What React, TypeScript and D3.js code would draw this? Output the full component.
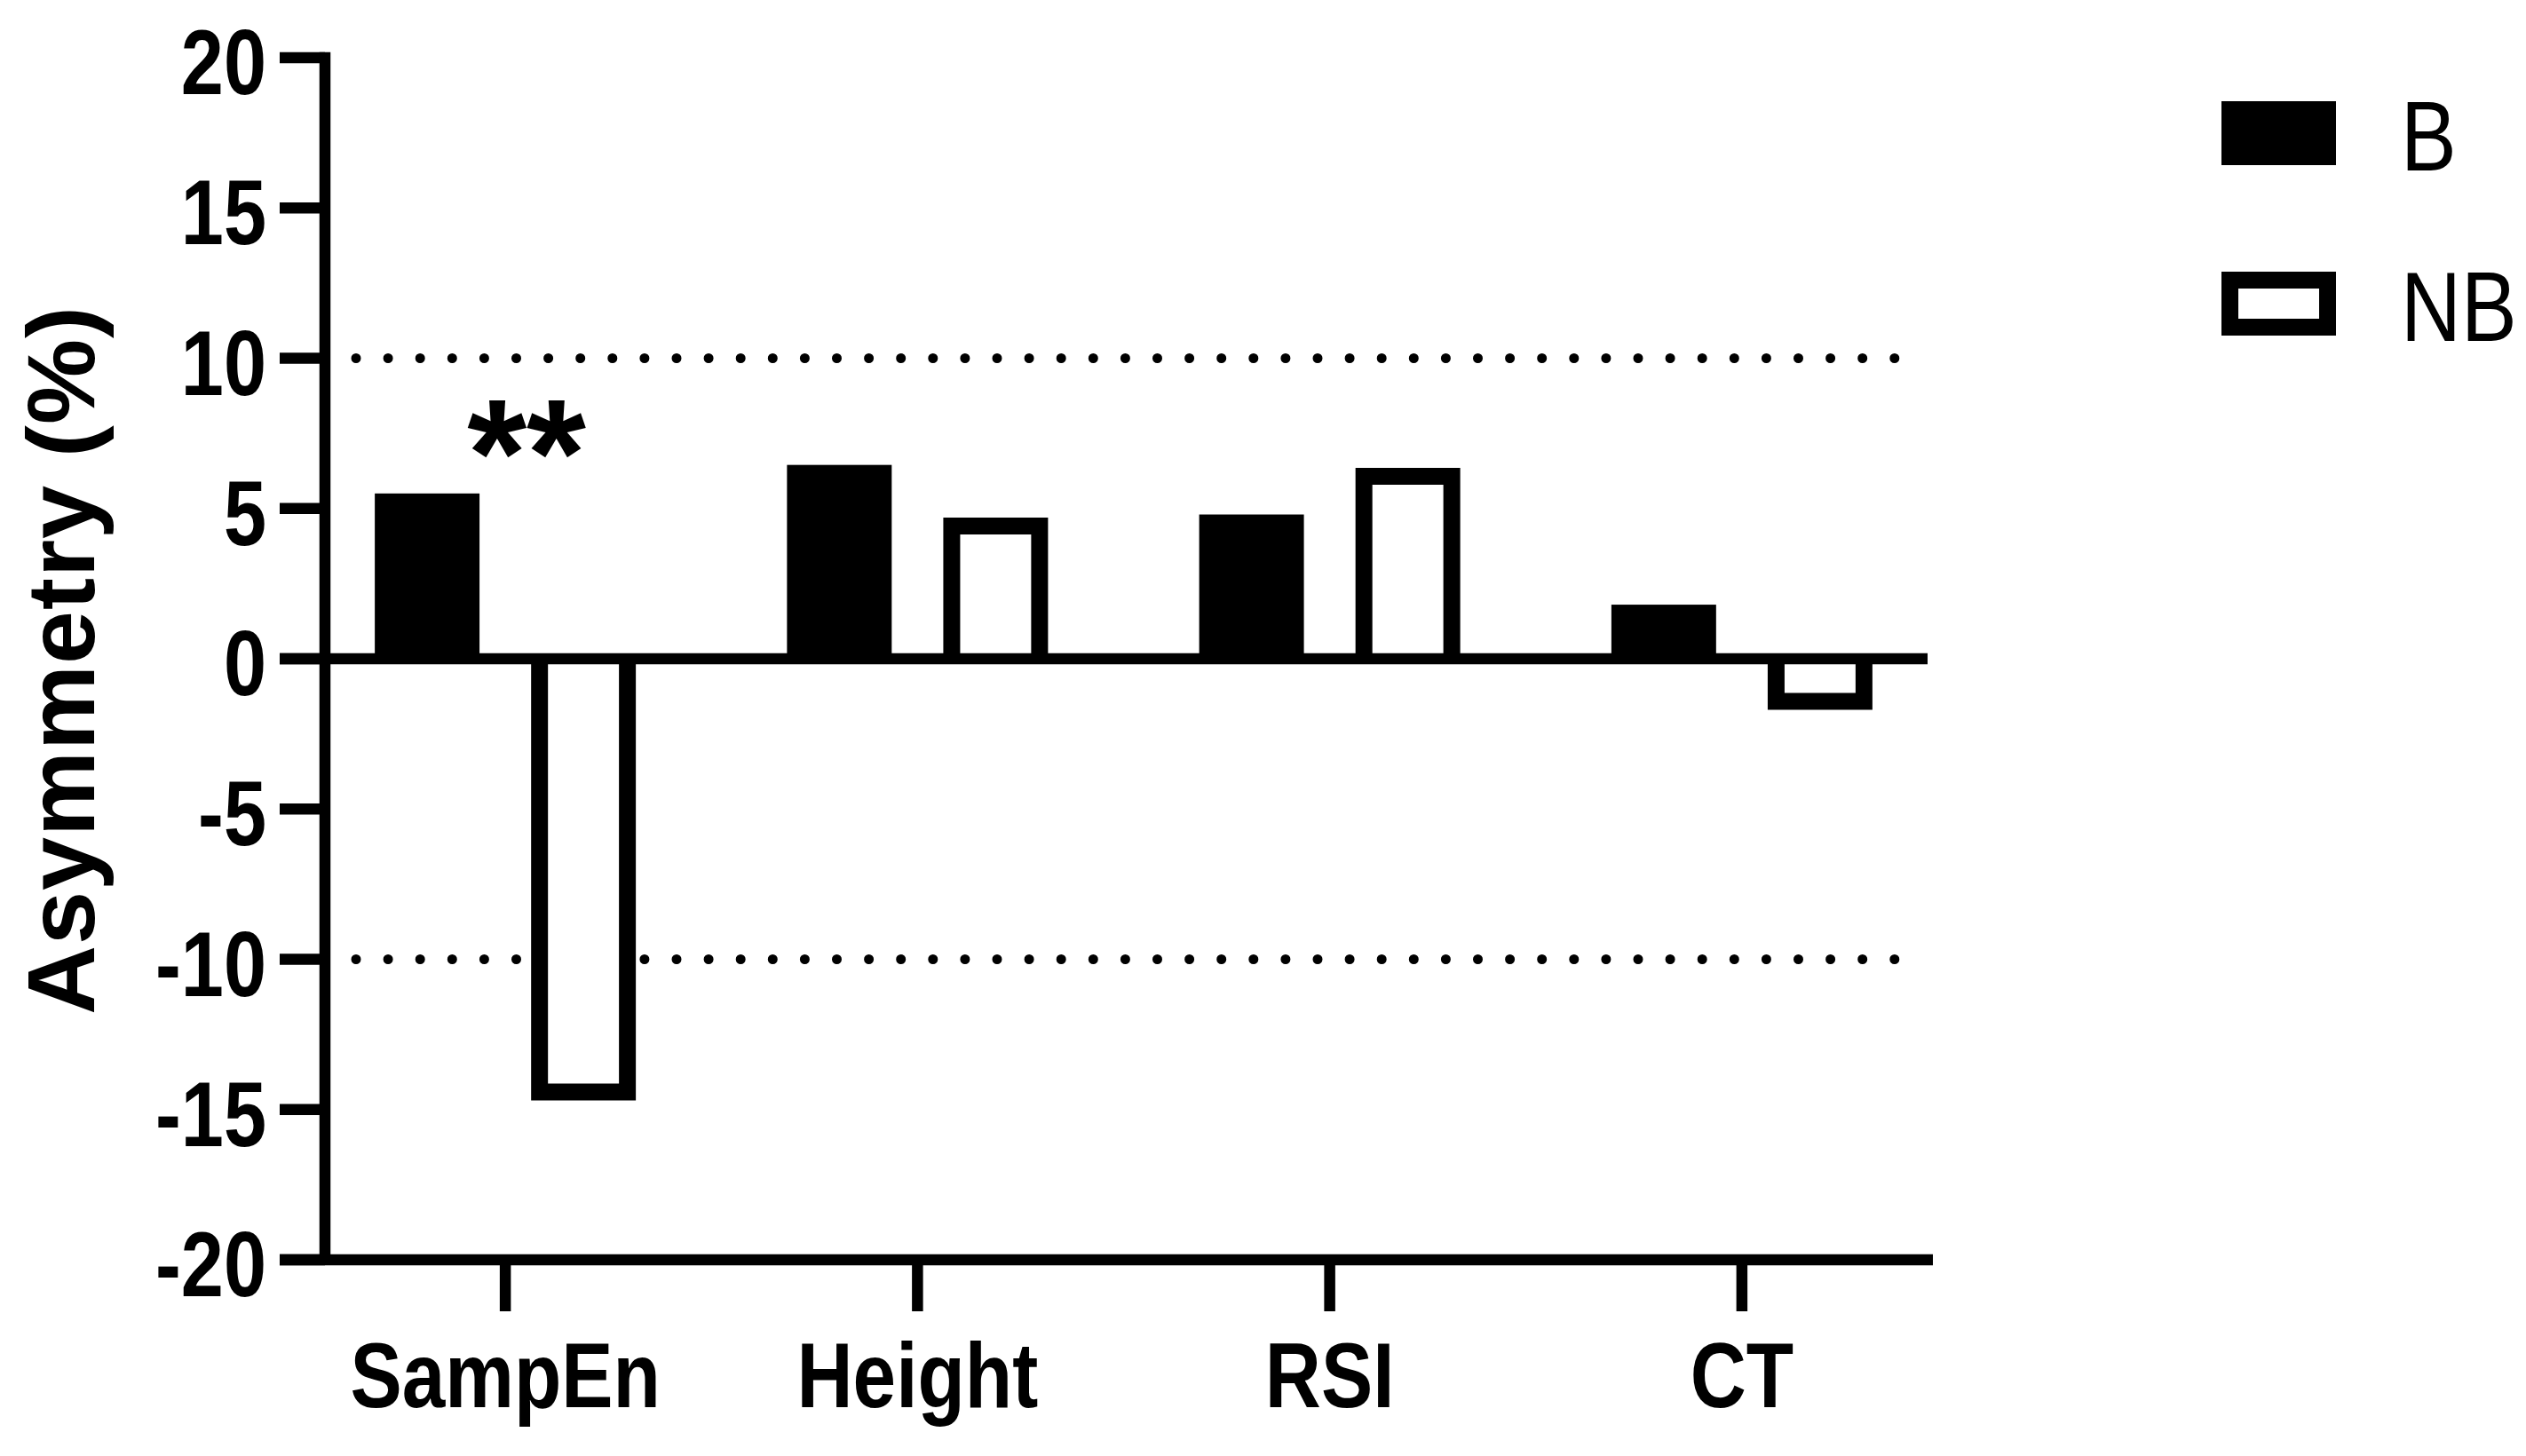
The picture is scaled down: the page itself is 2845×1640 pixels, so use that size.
import * as d3 from 'd3';
import { useRef, useEffect } from 'react';

// values
const categories = ['SampEn', 'Height', 'RSI', 'CT'];
const seriesNames = ['B', 'NB'];
const bValues = [5.5, 6.45, 4.8, 1.8];
const nbValues = [-14.7, 4.7, 6.35, -1.7];
const yTicks = [-20, -15, -10, -5, 0, 5, 10, 15, 20];
const refLines = [10, -10];
const yLabel = 'Asymmetry (%)';
const stars = '**';

const App = () => {
    const svgRef = useRef<SVGSVGElement | null>(null);

    useEffect(() => {
        const width = 2845;
        const height = 1640;
        const font = '"Liberation Sans", Arial, sans-serif';
        const narrow = 0.84;
        const lw = 12.5;
        const sw = 19;

        d3.select(svgRef.current).selectAll('*').remove();

        const svg = d3.select(svgRef.current)
            .attr('width', width)
            .attr('height', height);

        svg.append('rect').attr('width', width).attr('height', height).attr('fill', '#fff');

        // Scales
        const y = d3.scaleLinear().domain([-20, 20]).range([1419, 65]);
        const x0 = d3.scaleBand().domain(categories).range([337, 2194]);
        const x1 = d3.scaleBand().domain(seriesNames).range([0, 294]).paddingInner(0.33);
        const center = (c: string) => x0(c)! + x0.bandwidth() / 2;

        const axisX = 366;
        const tickLeft = 315;

        // dotted reference lines (drawn under the bars)
        svg.selectAll('line.ref')
            .data(refLines)
            .enter()
            .append('line')
            .attr('class', 'ref')
            .attr('x1', 401)
            .attr('x2', 2134)
            .attr('y1', d => y(d))
            .attr('y2', d => y(d))
            .attr('stroke', '#000')
            .attr('stroke-width', 11)
            .attr('stroke-linecap', 'round')
            .attr('stroke-dasharray', '0 36.1');

        // bars
        const rows = categories.map((c, i) => ({ cat: c, items: [
            { s: 'B', v: bValues[i] },
            { s: 'NB', v: nbValues[i] },
        ] }));

        const group = svg.selectAll('g.grp')
            .data(rows)
            .enter()
            .append('g')
            .attr('class', 'grp')
            .attr('transform', d => `translate(${center(d.cat) - 147},0)`);

        // filled bars
        group.selectAll('rect.b')
            .data(d => d.items.filter(e => e.s === 'B'))
            .enter()
            .append('rect')
            .attr('class', 'b')
            .attr('x', d => x1(d.s)!)
            .attr('y', d => y(Math.max(0, d.v)))
            .attr('width', x1.bandwidth())
            .attr('height', d => Math.abs(y(d.v) - y(0)))
            .attr('fill', '#000');

        // open bars: white box, border on the three sides away from zero
        const openBars = group.selectAll('g.nb')
            .data(d => d.items.filter(e => e.s === 'NB'))
            .enter()
            .append('g')
            .attr('class', 'nb');

        openBars.append('rect')
            .attr('x', d => x1(d.s)!)
            .attr('y', d => y(Math.max(0, d.v)))
            .attr('width', x1.bandwidth())
            .attr('height', d => Math.abs(y(d.v) - y(0)))
            .attr('fill', '#fff');

        openBars.append('path')
            .attr('d', d => {
                const l = x1(d.s)! + sw / 2;
                const r = x1(d.s)! + x1.bandwidth() - sw / 2;
                const z = y(0);
                const end = y(d.v) + (d.v > 0 ? sw / 2 : -sw / 2);
                return `M${l},${z}L${l},${end}L${r},${end}L${r},${z}`;
            })
            .attr('fill', 'none')
            .attr('stroke', '#000')
            .attr('stroke-width', sw)
            .attr('stroke-linejoin', 'miter');

        // axes
        const line = (xa: number, ya: number, xb: number, yb: number) =>
            svg.append('line')
                .attr('x1', xa).attr('y1', ya).attr('x2', xb).attr('y2', yb)
                .attr('stroke', '#000').attr('stroke-width', lw);

        line(tickLeft, y(0), 2171, y(0));
        line(tickLeft, y(-20), 2177, y(-20));
        line(axisX, y(20) - lw / 2, axisX, y(-20));

        yTicks.forEach(t => {
            line(tickLeft, y(t), axisX, y(t));
            svg.append('text')
                .attr('transform', `translate(300,${y(t) + 41}) scale(${narrow},1)`)
                .attr('text-anchor', 'end')
                .attr('font-family', font)
                .attr('font-weight', 'bold')
                .attr('font-size', 103)
                .text(t);
        });

        categories.forEach(c => {
            line(center(c), y(-20), center(c), 1477);
            svg.append('text')
                .attr('transform', `translate(${center(c)},1585) scale(${narrow},1)`)
                .attr('text-anchor', 'middle')
                .attr('font-family', font)
                .attr('font-weight', 'bold')
                .attr('font-size', 104)
                .text(c);
        });

        // y title
        svg.append('text')
            .attr('transform', `translate(106,744) rotate(-90)`)
            .attr('text-anchor', 'middle')
            .attr('font-family', font)
            .attr('font-weight', 'bold')
            .attr('font-size', 108)
            .attr('textLength', 798)
            .attr('lengthAdjust', 'spacing')
            .text(yLabel);

        // significance
        svg.append('text')
            .attr('x', center('SampEn') + 24)
            .attr('y', 570)
            .attr('text-anchor', 'middle')
            .attr('font-family', font)
            .attr('font-weight', 'bold')
            .attr('font-size', 172)
            .text(stars);

        // legend
        const legend = svg.selectAll('g.leg')
            .data(seriesNames)
            .enter()
            .append('g')
            .attr('class', 'leg')
            .attr('transform', (d, i) => `translate(2502,${114 + i * 192})`);

        legend.append('rect')
            .attr('x', d => d === 'B' ? 0 : sw / 2)
            .attr('y', d => d === 'B' ? 0 : sw / 2)
            .attr('width', d => d === 'B' ? 129 : 129 - sw)
            .attr('height', d => d === 'B' ? 72 : 72 - sw)
            .attr('fill', d => d === 'B' ? '#000' : '#fff')
            .attr('stroke', d => d === 'B' ? 'none' : '#000')
            .attr('stroke-width', sw);

        legend.append('text')
            .attr('transform', `translate(202,78) scale(${narrow},1)`)
            .attr('font-family', font)
            .attr('font-size', 112)
            .text(d => d);
    }, []);

    return (
        <svg ref={svgRef} style={{ position: 'absolute', left: 0, top: 0 }}></svg>
    );
};

export default App;
